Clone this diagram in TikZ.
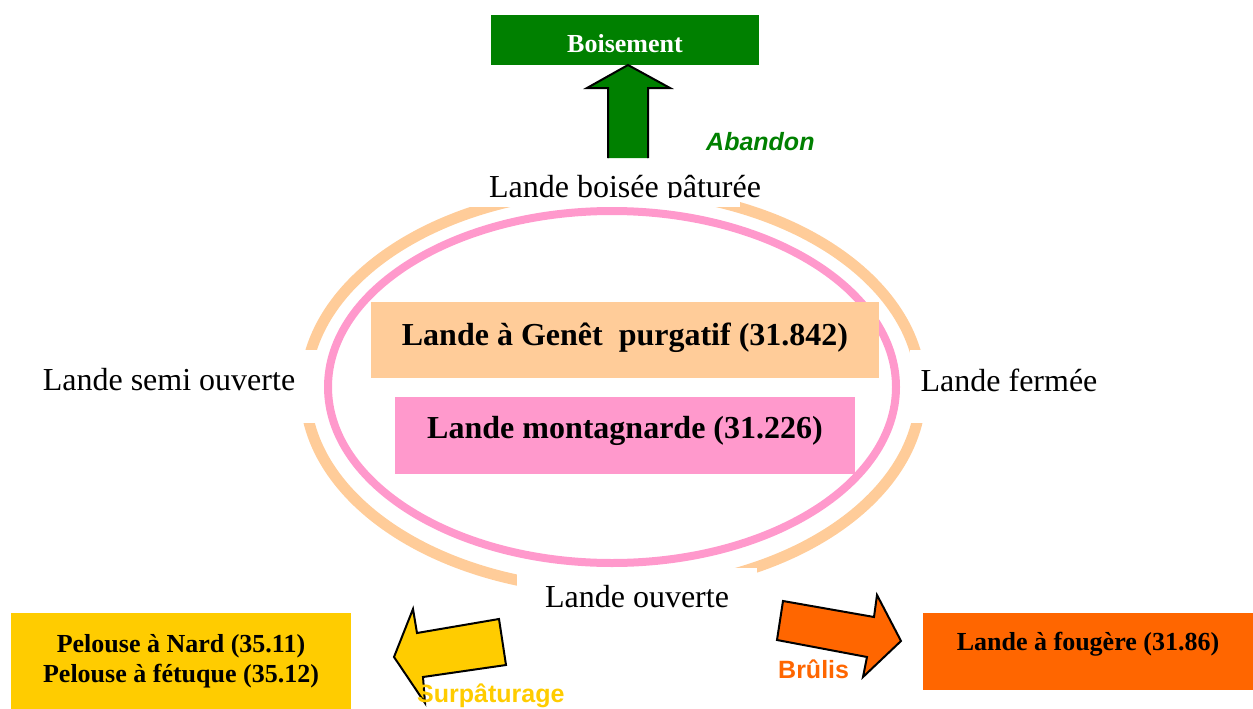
\documentclass[tikz,border=0pt]{standalone}
\usepackage{fontspec}
\setmainfont{Liberation Serif}
\setsansfont{Liberation Sans}
\usetikzlibrary{positioning}

\definecolor{foret}{HTML}{008000}
\definecolor{peche}{HTML}{FFCC99}
\definecolor{rose}{HTML}{FF99CC}
\definecolor{brulis}{HTML}{FF6600}
\definecolor{jaune}{HTML}{FFCC00}

\tikzset{
  etiquette/.style={font=\fontsize{32}{38}\selectfont, inner sep=0pt, anchor=base},
  milieu/.style={font=\bfseries\fontsize{32}{38}\selectfont, inner sep=0pt, anchor=north},
  milieupetit/.style={font=\bfseries\fontsize{26}{30}\selectfont, inner sep=0pt, align=center},
  action/.style={font=\sffamily\bfseries\fontsize{25}{30}\selectfont, inner sep=0pt, anchor=base west},
  fleche/.style={draw=black, line width=2pt, line join=miter},
}

\begin{document}
\begin{tikzpicture}[x=1pt, y=-1pt]
  \useasboundingbox (0,0) rectangle (1253,709);

  % Cycle of the landes
  \draw[peche, line width=11pt] (613,390) ellipse [x radius=308pt, y radius=200pt];
  \draw[rose, line width=8pt] (612,387) ellipse [x radius=284pt, y radius=176pt];
  \fill[white] (470,150) rectangle (740,207);
  \fill[white] (292,350) rectangle (318,423);
  \fill[white] (910,350) rectangle (935,423);
  \fill[white] (517,568) rectangle (757,620);

  % Central boxes
  \node[milieu, fill=peche, minimum width=508pt, text height=43pt, text depth=33pt] (genet) at (625,302) {Lande à Genêt\ \ purgatif (31.842)};
  \node[milieu, fill=rose, minimum width=460pt, text height=41pt, text depth=36pt] (montagnarde) at (625,397) {Lande montagnarde (31.226)};

  % Stages of the cycle
  \node[etiquette] (boisee) at (625,197) {Lande boisée pâturée};
  \fill[white] (487,197.5) rectangle (738,207);
  \node[etiquette] (semi) at (169,390) {Lande semi ouverte};
  \node[etiquette] (fermee) at (1009,391) {Lande fermée};
  \node[etiquette] (ouverte) at (637,607) {Lande ouverte};

  % Outcomes
  \node[milieupetit, anchor=north, fill=foret, text=white, minimum width=268pt, text height=37pt, text depth=13pt] (boisement) at (625,15) {Boisement};
  \node[milieupetit, fill=jaune, minimum width=340pt, minimum height=96pt] (pelouse) at (181,661) {Pelouse à Nard (35.11)\\Pelouse à fétuque (35.12)};
  \node[milieupetit, anchor=north, fill=brulis, minimum width=330pt, text height=37pt, text depth=40pt] (fougere) at (1088,613) {Lande à fougère (31.86)};

  % Block arrows
  \fill[foret] (608,158) -- (608,88) -- (587,88) -- (628,65) -- (670,88) -- (648,88) -- (648,158) -- cycle;
  \draw[fleche] (608,158) -- (608,88) -- (587,88) -- (628,65) -- (670,88) -- (648,88) -- (648,158);
  \draw[fleche, fill=brulis] (783,601) -- (874,617) -- (877,595) -- (901,641) -- (863,677) -- (867,657) -- (777,640) -- cycle;
  \draw[fleche, fill=jaune] (499,619) -- (417,633) -- (413,609) -- (394,657) -- (425,703) -- (423,677) -- (506,665) -- cycle;

  % Actions
  \node[action, text=foret, font=\sffamily\bfseries\itshape\fontsize{25}{30}\selectfont] (abandon) at (706,150) {Abandon};
  \node[action, text=brulis] (brul) at (778,678) {Brûlis};
  \node[action, text=jaune] (surpat) at (417,702) {Surpâturage};
\end{tikzpicture}
\end{document}
